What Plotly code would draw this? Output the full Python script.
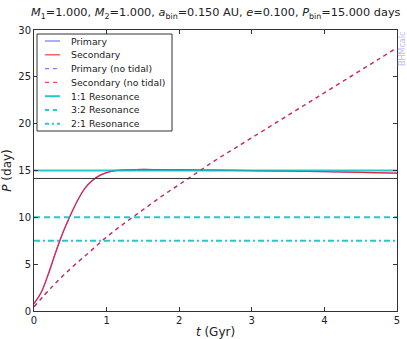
import plotly.graph_objects as go

# Secondary / primary evolution with tides (both overlap)
t_tidal = [0.0, 0.1, 0.2, 0.3, 0.4, 0.5, 0.6, 0.7, 0.8, 0.9, 1.0, 1.1, 1.2, 1.4,
           1.7, 2.0, 2.5, 3.0, 3.5, 4.0, 4.5, 5.0]
p_tidal = [0.8, 2.0, 4.0, 6.3, 8.4, 10.2, 11.8, 13.1, 13.9, 14.45, 14.78, 14.97, 15.05, 15.1,
           15.1, 15.08, 15.03, 14.98, 14.93, 14.87, 14.8, 14.72]

# Evolution without tides
t_free = [0.0, 0.25, 0.5, 0.75, 1.0, 1.25, 1.5, 1.75, 2.0, 2.25, 2.5, 2.75, 3.0,
          3.25, 3.5, 3.75, 4.0, 4.25, 4.5, 4.75, 5.0]
p_free = [0.45, 2.6, 4.5, 6.2, 7.9, 9.4, 10.8, 12.2, 13.5, 14.8, 16.1, 17.3, 18.5,
          19.7, 20.9, 22.1, 23.3, 24.5, 25.7, 26.9, 28.1]

p_bin = 15.0
p_crit = 14.15
t_range = [0, 5]

blue = "rgba(0,0,255,0.5)"
red = "rgba(255,0,0,0.72)"
cyan = "rgba(0,191,191,0.85)"

W, H = 407, 339
ML, MR, MT, MB = 34, 10, 30, 28
PW, PH = W - ML - MR, H - MT - MB


def px(x):
    return (x - ML) / PW


def py(y):
    return (H - MB - y) / PH


fig = go.Figure()
legend_items = []


def add_line(x, y, name, color, dash="solid", width=1.3, spline=False, legend=True):
    fig.add_trace(go.Scatter(x=x, y=y, mode="lines", name=name, showlegend=False,
                             line=dict(color=color, width=width, dash=dash,
                                       shape="spline" if spline else "linear")))
    if legend:
        legend_items.append((name, color, dash, width))


add_line(t_tidal, p_tidal, "Primary", blue, spline=True)
add_line(t_tidal, p_tidal, "Secondary", red, spline=True)
add_line(t_free, p_free, "Primary (no tidal)", blue, dash="4px,4px", spline=True)
add_line(t_free, p_free, "Secondary (no tidal)", red, dash="4px,4px", spline=True)
add_line(t_range, [p_crit, p_crit], "", "#333333", width=1, legend=False)
add_line(t_range, [p_bin, p_bin], "1:1 Resonance", cyan, width=2)
add_line(t_range, [p_bin / 1.5, p_bin / 1.5], "3:2 Resonance", cyan, dash="6px,4px", width=2)
add_line(t_range, [p_bin / 2, p_bin / 2], "2:1 Resonance", cyan, dash="6px,3px,2px,3px", width=2)

# matplotlib-like legend box drawn by hand
shapes = [dict(type="rect", xref="paper", yref="paper", x0=px(37), x1=px(172), y0=py(131), y1=py(34),
               line=dict(color="#333333", width=1), fillcolor="white", layer="above")]
annotations = []
for i, (name, color, dash, width) in enumerate(legend_items):
    yc = py(41 + 13.8 * i)
    shapes.append(dict(type="line", xref="paper", yref="paper", x0=px(45), x1=px(60), y0=yc, y1=yc,
                       line=dict(color=color, width=width, dash=dash.replace("6px", "4px")), layer="above"))
    annotations.append(dict(text=name, xref="paper", yref="paper", x=px(69), y=yc, xanchor="left",
                            yanchor="middle", showarrow=False, font=dict(size=9.3, color="#222222")))

annotations.append(dict(text="BHMcalc", x=1.0, y=1.0, xref="paper", yref="paper",
                        xanchor="center", yanchor="top", xshift=5, textangle=-90, showarrow=False,
                        font=dict(size=8, color="#b8b8ff")))

axis_style = dict(showline=True, linecolor="#333333", linewidth=1, mirror="allticks", automargin=False,
                  ticks="inside", ticklen=4, tickcolor="#333333", showgrid=False, zeroline=False,
                  tickfont=dict(size=10, color="#222222"))

fig.update_layout(
    width=W, height=H,
    margin=dict(l=ML, r=MR, t=MT, b=MB),
    paper_bgcolor="white", plot_bgcolor="white",
    font=dict(family="DejaVu Sans", color="#222222"),
    title=dict(text="<i>M</i><sub>1</sub>=1.000, <i>M</i><sub>2</sub>=1.000, <i>a</i><sub>bin</sub>=0.150 AU, "
                    "<i>e</i>=0.100, <i>P</i><sub>bin</sub>=15.000 days",
               x=0.53, xanchor="center", y=0.975, yanchor="top", font=dict(size=11.3)),
    xaxis=dict(range=t_range, dtick=1, **axis_style,
               title=dict(text="<i>t</i> (Gyr)", font=dict(size=12), standoff=2)),
    yaxis=dict(range=[0, 30], dtick=5, **axis_style,
               title=dict(text="<i>P</i> (day)", font=dict(size=12), standoff=6)),
    shapes=shapes,
    annotations=annotations,
    showlegend=False,
)

fig.write_html("out.html", config={"displayModeBar": False},
               post_script="document.body.style.margin='0px';")
